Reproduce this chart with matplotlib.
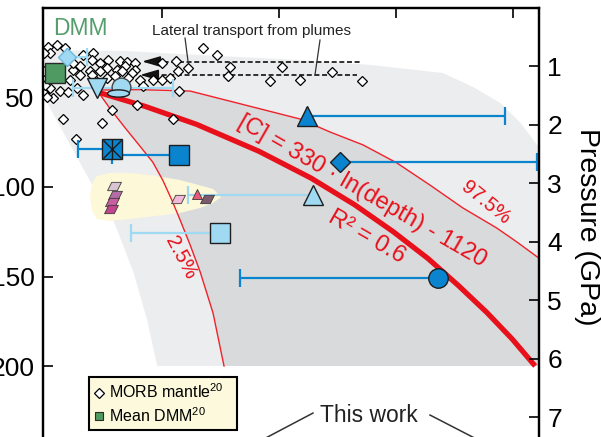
import matplotlib
matplotlib.use('Agg')
import matplotlib.pyplot as plt
from matplotlib.path import Path
from matplotlib.lines import Line2D
import numpy as np

plt.rcParams['font.family'] = ['Liberation Sans', 'DejaVu Sans']
plt.rcParams['mathtext.fontset'] = 'custom'
plt.rcParams['mathtext.rm'] = 'Liberation Sans'
plt.rcParams['mathtext.default'] = 'regular'
plt.rcParams['lines.scale_dashes'] = False

# ---------------- data (carbon, ppm  vs  depth, km) ----------------
morb_c = [105.5, 95.6, 97.8, 91, 133.9, 144.8, 143.7, 161.2, 152.5, 174.3, 182.0, 190.7,
          130.6, 122.9, 141.5, 160.1, 171.0, 179.8, 190.7, 187.4, 119.7, 130.6, 147.0,
          160.1, 168.9, 183.1, 196.2, 210.4, 220.2, 229.0, 199.5, 127.3, 97.8, 91, 108.7,
          117.5, 101.1, 133.9, 94.5, 91, 220.2, 235.5, 248.6, 237.7, 238.8, 265.0, 280.3,
          294.5, 292.4, 351.4, 338.3, 371.0, 406.0, 438.8, 192.9, 165.6, 232.2, 112.0,
          154.6, 126.2, 143.7, 152.5, 176.5, 92.4, 91, 114.2, 122.9]
morb_d = [20.7, 21.8, 25.1, 25.1, 26.3, 25.1, 29.1, 29.1, 30.7, 29.6, 30.2, 30.7,
          32.4, 34.6, 35.2, 33.5, 34.6, 32.4, 34.6, 36.3, 40.2, 37.4, 40.2,
          39.1, 38.0, 39.1, 40.2, 40.2, 40.2, 39.1, 43.6, 44.7, 44.7, 47.5, 46.4,
          46.9, 50.3, 48.6, 49.7, 39.1, 30.7, 29.6, 33.5, 35.2, 46.4, 22.3, 26.3,
          33.0, 38.0, 33.0, 40.8, 40.2, 35.8, 40.8, 54.2, 57.0, 62.0, 62.0,
          64.2, 73.2, 37.4, 35.2, 35.2, 43.0, 35.2, 22.3, 30.7]

dmm_c = [103.3]
dmm_d = [36.3]

fit_depth = [47, 55, 65, 80, 95, 110, 125, 140, 155, 170, 185, 200]
fit_c = [150, 202, 258, 326, 383, 431, 473, 511, 544, 575, 603, 628]

ci025_c = [149, 163, 180, 196, 210, 221, 231, 240, 251, 262, 276, 288]
ci025_d = [45.8, 55.9, 67.0, 77.1, 86.0, 96.1, 107.3, 118.4, 132.4, 147.5, 170.4, 200]

ci975_c = [149, 196, 251, 311, 371, 404, 440, 477, 513, 549, 586, 608, 632]
ci975_d = [45.8, 45.6, 46.4, 54.2, 62.0, 69.3, 76.5, 86.6, 98.9, 111.7, 122.9, 130.7, 139.7]

env_top_c = [90, 180, 262, 371, 448, 527, 560, 590, 612, 632]
env_top_d = [23.5, 24, 26.3, 29.1, 31.8, 36.3, 44.1, 53.1, 64.2, 77.7]
env_left_c = [90, 123, 147, 167, 189, 204, 215]
env_left_d = [48.6, 79.3, 101.7, 118.4, 147.5, 174.3, 200]

plume_c = [285, 276, 256, 240, 207, 185, 163, 149, 144, 141.5, 144, 149, 163, 185, 213, 240, 262, 276]
plume_d = [105.6, 101.1, 98.3, 96.1, 93.3, 92.2, 92.2, 93.9, 97.8, 105.6, 113.4, 117.9, 119.0,
           117.9, 116.2, 114.5, 111.7, 108.9]

# estimates with horizontal error bars
est_c = [116.4, 149.2, 175.4, 172.1, 165.6, 238.8, 378.7, 414.8, 385.2, 283.6, 521.3]
est_d = [27.4, 44.7, 44.1, 47.5, 78.5, 82.4, 60.6, 85.8, 104.2, 125.7, 150.6]
est_lo = [0, 26, 0, 0, 37, 73, 0, 0, 137, 97, 216]
est_hi = [22, 83, 0, 0, 0, 0, 216, 215, 0, 0, 0]

pink_c = [168, 169, 166, 164.5, 238, 259, 269]
pink_d = [99.4, 104.5, 108.4, 112.3, 106.7, 103.9, 106.7]

plume_arrow_d = [29.9, 37.4]
plume_arrow_c0 = [198.4, 196.2]
plume_arrow_c1 = [438.8, 433.4]

pressure_ticks = [1, 2, 3, 4, 5, 6, 7]
depth_ticks = [50, 100, 150, 200, 250]
km_per_gpa = 32.68

# ---------------- styles ----------------
BLUE = '#0b84cf'
LBLUE = '#9fd9f2'
EDGE = '#1e1e1e'
RED = '#e8101a'

ell_verts = Path.unit_circle().vertices * np.array([1.0, 0.33])
ellipse_marker = Path(ell_verts, Path.unit_circle().codes)
para_marker = Path([(-0.5, -0.3), (0.2, -0.3), (0.5, 0.3), (-0.2, 0.3), (-0.5, -0.3)],
                   [Path.MOVETO, Path.LINETO, Path.LINETO, Path.LINETO, Path.CLOSEPOLY])

est_style = [
    dict(marker='D', ms=9.2, mfc=LBLUE, mec='#6fb8dc', ecol=LBLUE),
    dict(marker='v', ms=14.4, mfc=LBLUE, mec=EDGE, ecol=LBLUE),
    dict(marker='o', ms=13.5, mfc=LBLUE, mec='#444444', ecol=LBLUE),
    dict(marker=ellipse_marker, ms=15.8, mfc=LBLUE, mec=EDGE, ecol=LBLUE),
    dict(marker='s', ms=14.4, mfc=BLUE, mec=EDGE, ecol=BLUE),
    dict(marker='s', ms=14.0, mfc=BLUE, mec=EDGE, ecol=BLUE),
    dict(marker='^', ms=14.4, mfc=BLUE, mec=EDGE, ecol=BLUE),
    dict(marker='D', ms=10.2, mfc=BLUE, mec=EDGE, ecol=BLUE),
    dict(marker='^', ms=14.4, mfc=LBLUE, mec=EDGE, ecol=LBLUE),
    dict(marker='s', ms=14.4, mfc=LBLUE, mec=EDGE, ecol=LBLUE),
    dict(marker='o', ms=14.0, mfc=BLUE, mec=EDGE, ecol=BLUE),
]
pink_style = [
    dict(marker=para_marker, ms=10, mfc='#d9c2d2'),
    dict(marker=para_marker, ms=10, mfc='#b46ea7'),
    dict(marker=para_marker, ms=10, mfc='#c95ea3'),
    dict(marker=para_marker, ms=10, mfc='#c2448e'),
    dict(marker=para_marker, ms=10, mfc='#f3b8d8'),
    dict(marker='^', ms=6.5, mfc='#e45a78'),
    dict(marker=para_marker, ms=10, mfc='#7b5a6c'),
]

# ---------------- figure ----------------
fig = plt.figure(figsize=(6.01, 4.37), dpi=100)
ax = fig.add_axes([43 / 601, 1 - 473.4 / 437, 496 / 601, 465.4 / 437])
XMIN, XMAX = 90.2, 632.2
DMAX = 260
ax.set_xlim(XMIN, XMAX)
ax.set_ylim(DMAX, 0)

# envelopes
lg_x = env_top_c + [XMAX] + env_left_c[::-1]
lg_y = env_top_d + [200] + env_left_d[::-1]
ax.fill(lg_x, lg_y, color='#ecedee', lw=0, zorder=0.5)
dk_x = ci025_c + [XMAX, XMAX] + ci975_c[::-1]
dk_y = ci025_d + [200, ci975_d[-1]] + ci975_d[::-1]
ax.fill(dk_x, dk_y, color='#d9dadc', lw=0, zorder=0.6)
ax.fill(plume_c, plume_d, color='#fdf8d8', lw=0, zorder=0.7)

ax.plot(ci025_c, ci025_d, color='#f0222a', lw=1.0, zorder=1.5)
ax.plot(ci975_c, ci975_d, color='#f0222a', lw=1.0, zorder=1.5)
ax.plot(fit_c, fit_depth, color=RED, lw=3.8, zorder=1.6, solid_capstyle='butt')

# lateral transport arrows
for d, c0, c1 in zip(plume_arrow_d, plume_arrow_c0, plume_arrow_c1):
    ax.plot([c0 + 15, c1], [d, d], color='#222222', lw=1.3, dashes=(3.6, 1.9), zorder=2)
    ax.annotate('', xy=(c0, d), xytext=(c0 + 16, d),
                arrowprops=dict(arrowstyle='-|>,head_length=0.55,head_width=0.16',
                                color='#111111', lw=1.2, shrinkA=0, shrinkB=0,
                                mutation_scale=20), zorder=2)
ax.plot([245.4, 248.6], [16.8, 29.6], color='#333333', lw=0.9, zorder=2)
ax.plot([392.9, 387.4], [17.9, 37.4], color='#333333', lw=0.9, zorder=2)

# MORB mantle
ax.plot(morb_c, morb_d, ls='none', marker='D', ms=5.0, mfc='white', mec='black', mew=0.9, zorder=2.5)
ax.plot(dmm_c, dmm_d, ls='none', marker='s', ms=13.7, mfc='#4e9a62', mec='#2a2a2a', mew=1.0, zorder=3.5)

# estimates
for c, d, lo, hi, st in zip(est_c, est_d, est_lo, est_hi, est_style):
    if lo or hi:
        ax.errorbar([c], [d], xerr=[[lo], [hi]], fmt='none', ecolor=st['ecol'],
                    elinewidth=1.6, capsize=6.5, capthick=1.6, zorder=3)
for c, d, st in zip(est_c, est_d, est_style):
    ax.plot([c], [d], ls='none', marker=st['marker'], ms=st['ms'], mfc=st['mfc'],
            mec=st['mec'], mew=1.0, zorder=4)
# cross inside the square
ax.plot([est_c[4]], [est_d[4]], ls='none', marker='x', ms=13.5, mec='#1a1a1a', mew=1.0, zorder=4.1)
ax.plot([est_c[4]], [est_d[4]], ls='none', marker='|', ms=14.4, mec='#1a1a1a', mew=1.0, zorder=4.1)

for c, d, st in zip(pink_c, pink_d, pink_style):
    ax.plot([c], [d], ls='none', marker=st['marker'], ms=st['ms'], mfc=st['mfc'],
            mec='#3a3a3a', mew=0.6, zorder=4)

# texts
ax.text(317.5, 12.8, 'Lateral transport from plumes', fontsize=11, ha='center', va='center',
        color='#222222', zorder=5)
ax.text(130.6, 11.2, 'DMM', fontsize=16.5, ha='center', va='center', color='#559e6c', zorder=5)
ax.text(438.8, 102.2, '[C] = 330 · ln(depth) - 1120', fontsize=17, color=RED, rotation=-30,
        ha='center', va='center', rotation_mode='anchor', zorder=5)
ax.text(444.3, 127.9, 'R² = 0.6', fontsize=17, color=RED, rotation=-30,
        ha='center', va='center', rotation_mode='anchor', zorder=5)
ax.text(574.3, 108.9, '97.5%', fontsize=14.5, color=RED, rotation=-39,
        ha='center', va='center', rotation_mode='anchor', zorder=5)
ax.text(241.0, 139.7, '2.5%', fontsize=14.5, color=RED, rotation=-62,
        ha='center', va='center', rotation_mode='anchor', zorder=5)
ax.text(446.4, 227.4, 'This work', fontsize=16.5, color='#222222', ha='center', va='center', zorder=5)
ax.plot([385.2, 325.1], [226.3, 242.5], color='#333333', lw=1.1, clip_on=False, zorder=5)
ax.plot([513.1, 578.7], [227.4, 244.7], color='#333333', lw=1.1, clip_on=False, zorder=5)

# legend
handles = [Line2D([], [], ls='none', marker='D', ms=5.0, mfc='white', mec='black', mew=0.9),
           Line2D([], [], ls='none', marker='s', ms=6.0, mfc='#4e9a62', mec='#2a2a2a', mew=0.8)]
leg = ax.legend(handles, ['MORB mantle$^{20}$', 'Mean DMM$^{20}$'], loc='upper left',
                bbox_to_anchor=(0.0927, 0.0954, 0.2984, 0.1117), mode='expand', borderaxespad=0,
                frameon=True, fancybox=False, edgecolor='black', facecolor='#fdf9dc', framealpha=1,
                fontsize=11.5, handlelength=0.6, handletextpad=0.3, borderpad=0.35,
                labelspacing=0.3)
leg.get_frame().set_linewidth(1.5)
leg.set_zorder(6)

# axes styling
ax.set_xticks([220, 348, 476, 604])
ax.set_yticks(depth_ticks)
ax.tick_params(axis='x', direction='in', top=True, bottom=True, labelbottom=False,
               length=7, width=1.2)
ax.tick_params(axis='y', direction='in', left=True, right=False, length=7, width=1.2,
               labelsize=19, pad=6)
for s in ax.spines.values():
    s.set_linewidth(1.6)

ax2 = ax.twinx()
ax2.set_ylim(DMAX / km_per_gpa, 0)
ax2.set_yticks(pressure_ticks)
ax2.tick_params(axis='y', direction='in', length=7, width=1.2, labelsize=19, pad=6)
for s in ax2.spines.values():
    s.set_linewidth(1.6)
fig.text(587 / 601, 1 - 227 / 437, 'Pressure (GPa)', rotation=270, fontsize=20.5,
         ha='center', va='center')

fig.savefig('out.png', dpi=100)
